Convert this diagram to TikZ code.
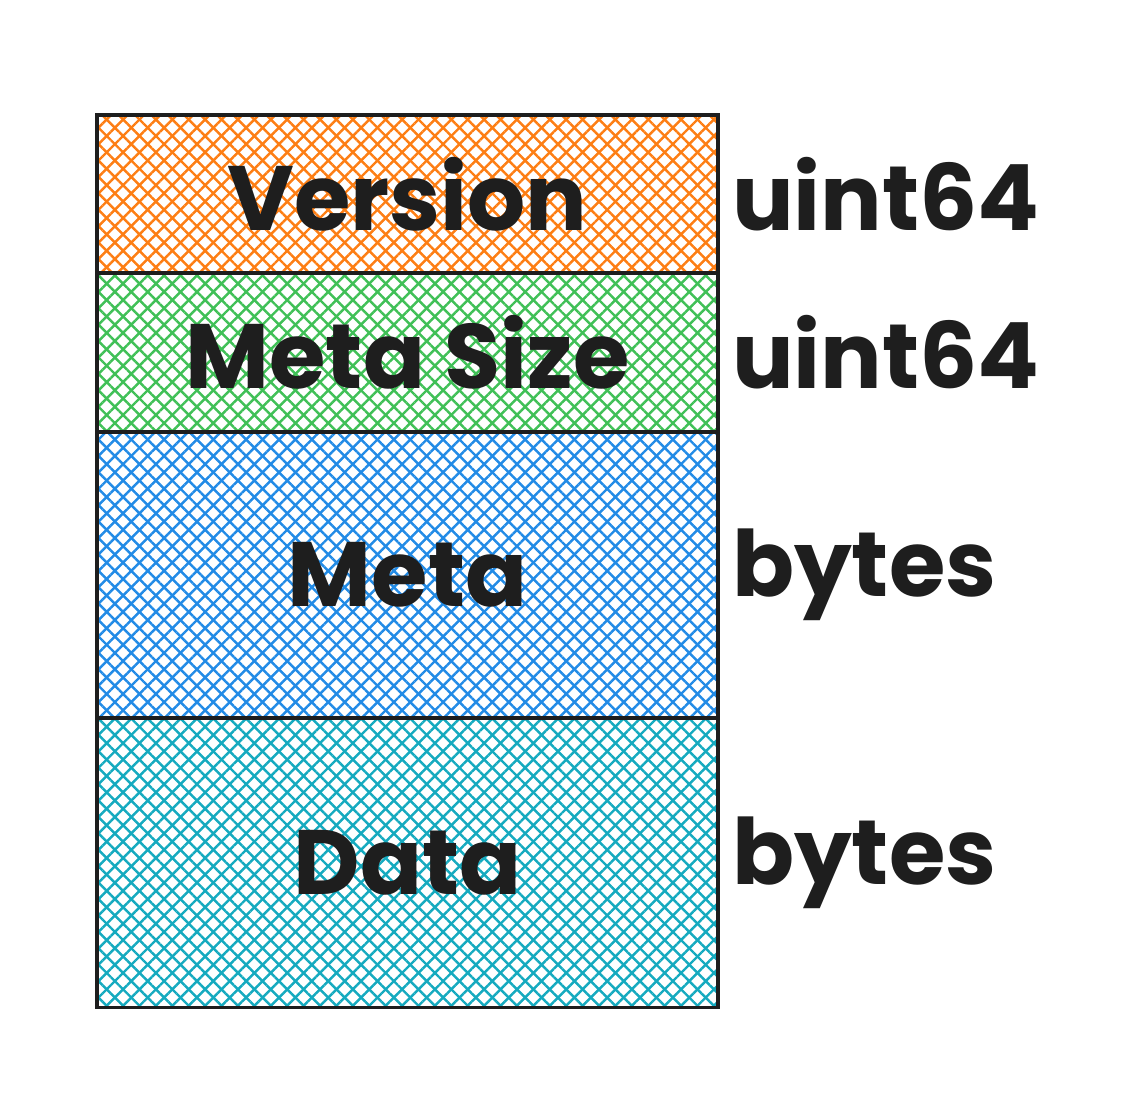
\documentclass[tikz,border=0pt]{standalone}
\usepackage{fontspec}
\setmainfont{Poppins}
\usetikzlibrary{positioning,patterns.meta}

\definecolor{ink}{HTML}{1E1E1E}
\definecolor{hatchorange}{HTML}{FD7E14}
\definecolor{hatchgreen}{HTML}{40C057}
\definecolor{hatchblue}{HTML}{228BE6}
\definecolor{hatchteal}{HTML}{15AABF}

\begin{document}
\begin{tikzpicture}[x=0.01cm, y=-0.01cm,
                    line width=1.1pt,
                    font=\fontsize{26}{30}\selectfont\bfseries]
    \tikzstyle{field}=[draw=ink, text=ink, outer sep=0pt, inner sep=0pt, minimum width=6.21cm]
    \tikzstyle{versionfield}=[field, minimum height=1.58cm,
        preaction={pattern={Lines[angle=45,distance=3.3pt,line width=0.7pt]}, pattern color=hatchorange},
        pattern={Lines[angle=-45,distance=3.3pt,line width=0.7pt]}, pattern color=hatchorange]
    \tikzstyle{sizefield}=[field, minimum height=1.59cm,
        preaction={pattern={Lines[angle=45,distance=3.3pt,line width=0.7pt]}, pattern color=hatchgreen},
        pattern={Lines[angle=-45,distance=3.3pt,line width=0.7pt]}, pattern color=hatchgreen]
    \tikzstyle{metafield}=[field, minimum height=2.86cm,
        preaction={pattern={Lines[angle=45,distance=3.3pt,line width=0.7pt]}, pattern color=hatchblue},
        pattern={Lines[angle=-45,distance=3.3pt,line width=0.7pt]}, pattern color=hatchblue]
    \tikzstyle{datafield}=[field, minimum height=2.89cm,
        preaction={pattern={Lines[angle=45,distance=3.3pt,line width=0.7pt]}, pattern color=hatchteal},
        pattern={Lines[angle=-45,distance=3.3pt,line width=0.7pt]}, pattern color=hatchteal]
    \tikzstyle{kind}=[text=ink, inner sep=0pt]

    \useasboundingbox (0,0) rectangle (1130,1096);

    \node[versionfield] (version) at (407.5,194) {Version};
    \node[sizefield, below=0pt of version] (metasize) {Meta Size};
    \node[metafield, below=0pt of metasize] (meta) {Meta};
    \node[datafield, below=0pt of meta] (data) {Data};

    \node[kind, right=0.12cm of version] (versiontype) {uint64};
    \node[kind, right=0.12cm of metasize] (metasizetype) {uint64};
    \node[kind, right=0.12cm of meta] (metatype) {bytes};
    \node[kind, right=0.12cm of data] (datatype) {bytes};
\end{tikzpicture}
\end{document}
